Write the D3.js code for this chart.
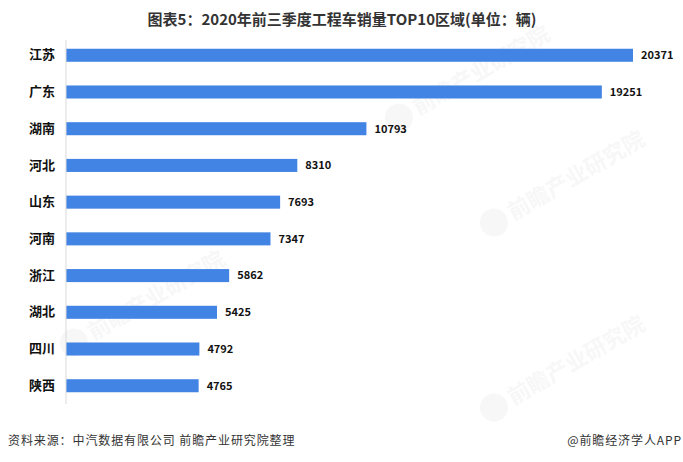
<!DOCTYPE html>
<html><head><meta charset="utf-8">
<script src="https://cdn.jsdelivr.net/npm/d3@7"></script>
<style>body{margin:0;background:#fff}svg{display:block}</style>
</head><body><svg id="c" width="683" height="462"></svg>
<script>
const categories = ["江苏","广东","湖南","河北","山东","河南","浙江","湖北","四川","陕西"];
const values = [20371,19251,10793,8310,7693,7347,5862,5425,4792,4765];
const titleText = "图表5：2020年前三季度工程车销量TOP10区域(单位：辆)";
const sourceText = "资料来源：中汽数据有限公司 前瞻产业研究院整理";
const brandText = "@前瞻经济学人APP";

const svg = d3.select("#c");
const font = "'Noto Sans CJK SC','Microsoft YaHei',sans-serif";

// faint watermarks
const wm = [[95,335],[420,110],[515,215],[515,400]];
wm.forEach(([x,y])=>{
  const g = svg.append("g").attr("transform",`translate(${x},${y}) rotate(-30)`).attr("opacity",0.045);
  g.append("circle").attr("cx",-22).attr("cy",-4).attr("r",14).attr("fill","#666");
  g.append("text").attr("x",-4).attr("y",4).attr("font-family",font).attr("font-size",22)
    .attr("font-weight","bold").attr("fill","#666").text("前瞻产业研究院");
});

const x = d3.scaleLinear().domain([0, 20371]).range([66, 633]);
const y = d3.scaleBand().domain(categories).range([37, 404]).paddingInner(0.645).paddingOuter(0.32);

svg.append("text").attr("x",342).attr("y",25).attr("text-anchor","middle")
  .attr("font-family",font).attr("font-weight","bold").attr("font-size",15).attr("fill","#333")
  .text(titleText);

svg.selectAll("rect.bar").data(values).join("rect").attr("class","bar")
  .attr("x", x(0)).attr("y",(d,i)=>y(categories[i]))
  .attr("width", d=>x(d)-x(0)).attr("height", y.bandwidth())
  .attr("fill","#4284e4");

svg.selectAll("text.val").data(values).join("text").attr("class","val")
  .attr("x", d=>x(d)+8).attr("y",(d,i)=>y(categories[i])+y.bandwidth()/2)
  .attr("dy","0.35em").attr("font-family",font).attr("font-weight","bold")
  .attr("font-size",11).attr("fill","#111").text(d=>d);

const ax = svg.append("g").attr("transform","translate(66,0)")
  .call(d3.axisLeft(y).tickSize(0).tickPadding(11));
ax.select(".domain").attr("stroke","#d9d9d9").attr("d","M0,40V404");
ax.selectAll("text").attr("font-family",font).attr("font-weight","bold")
  .attr("font-size",13).attr("fill","#111");

svg.append("text").attr("x",8).attr("y",445).attr("font-family",font)
  .attr("font-size",12).attr("letter-spacing",0.9).attr("fill","#333").text(sourceText);
svg.append("text").attr("x",682).attr("y",445).attr("text-anchor","end").attr("font-family",font)
  .attr("font-size",12).attr("letter-spacing",0.9).attr("fill","#333").text(brandText);
</script></body></html>
